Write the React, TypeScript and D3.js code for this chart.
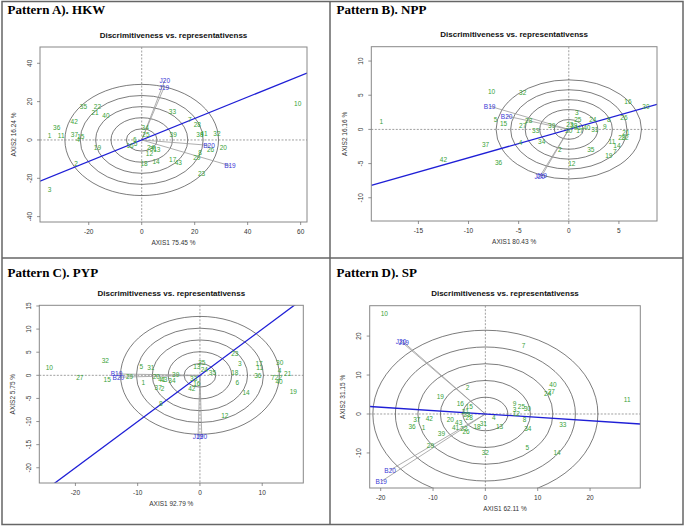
import React from 'react';
import * as d3 from 'd3';

// ---------- Panel A: HKW ----------
const genoLabelsA = ['10','35','22','21','40','42','36','1','11','37','4','15','33','7','28','34','25','39','38','41','32','6','16','5','24','31','13','12','18','14','17','43','19','20','26','8','29','23','2','3'];
const genoXA = [58.9,-22.0,-16.7,-17.6,-13.5,-25.5,-32.1,-34.8,-30.4,-25.4,-24.0,-23.0,11.6,18.2,21.0,1.3,1.6,11.9,22.0,23.5,28.4,-2.6,-4.4,-2.3,3.4,4.4,5.7,2.9,0.9,5.4,11.7,13.8,-16.7,30.8,26.0,22.0,20.8,22.6,-24.8,-34.8];
const genoYA = [19.1,17.2,17.7,14.4,12.7,9.6,6.6,2.1,2.4,2.8,0.2,1.7,14.8,10.8,8.2,6.3,2.8,3.1,2.8,3.5,3.5,0.3,-3.1,-2.1,-3.7,-4.6,-5.0,-7.0,-12.2,-11.0,-10.4,-11.8,-4.0,-3.7,-5.0,-6.6,-9.0,-17.7,-12.5,-25.7];
const envLabelsA = ['J20','J19','B20','B19'];
const envXA = [8.7,8.4,25.4,33.3];
const envYA = [31.1,27.3,-2.8,-13.4];
const ringsA = [5.8,11.6,17.4,23.2,29.0];
const slopeA = 0.56;
const xTicksA = [-20,0,20,40,60];
const yTicksA = [-40,-20,0,20,40];

// ---------- Panel B: NPP ----------
const genoLabelsB = ['1','10','32','16','30','5','15','28','27','3','25','24','8','26','33','39','23','20','38','41','17','40','31','9','21','29','22','11','14','7','19','37','34','4','2','35','42','36','12'];
const genoXB = [-18.7,-7.7,-4.6,5.9,7.7,-7.3,-6.5,-4.0,-4.6,0.8,0.9,2.4,4.0,5.5,-3.3,-1.7,0.1,0.0,0.5,0.9,1.1,1.8,2.6,3.6,5.7,5.3,5.6,4.3,4.8,4.6,4.0,-8.3,-2.7,-4.8,-0.9,2.2,-12.5,-7.0,0.3];
const genoYB = [1.1,5.5,5.4,4.1,3.4,1.4,0.8,1.3,0.6,2.5,1.5,1.5,1.5,1.8,-0.1,0.6,0.7,-0.1,0.5,0.3,-0.2,0.3,0.0,0.4,-0.5,-1.2,-1.2,-1.8,-2.3,-3.3,-3.8,-2.2,-1.8,-1.9,-3.0,-3.0,-4.4,-4.8,-5.0];
const envLabelsB = ['B19','B20','J20','J19'];
const envXB = [-7.9,-6.2,-2.9,-2.7];
const envYB = [3.4,1.95,-6.9,-6.8];
const ringsB = [1.45,2.9,4.35,5.8,7.25];
const slopeB = 0.415;
const xTicksB = [-15,-10,-5,0,5];
const yTicksB = [-10,-5,0,5,10];

// ---------- Panel C: PYP ----------
const genoLabelsC = ['10','32','27','15','29','5','31','1','20','41','43','34','39','37','2','42','33','16','13','25','24','35','23','3','18','6','14','17','11','36','30','4','21','7','22','40','19','12','8'];
const genoXC = [-24.2,-15.2,-19.3,-14.9,-11.3,-9.4,-7.9,-9.1,-7.0,-6.1,-5.8,-4.5,-3.9,-6.7,-6.0,-1.3,-1.0,-0.5,-0.5,0.3,0.7,2.0,5.6,6.4,5.6,6.0,7.4,9.5,9.6,9.3,12.8,12.8,14.1,11.7,12.6,12.7,15.0,4.0,-6.3];
const genoYC = [1.7,3.2,-0.4,-0.9,-0.3,1.8,1.7,-1.5,-0.3,-0.9,-1.0,-1.1,0.1,-2.7,-2.8,-2.8,-0.6,-1.7,2.0,2.7,1.3,0.6,4.8,2.5,0.6,-1.5,-3.7,2.6,1.7,-0.1,2.8,1.0,0.4,-0.4,-0.4,-1.4,-3.4,-8.6,-6.2];
const envLabelsC = ['B19','B20','J19','J20'];
const envXC = [-13.4,-13.1,-0.3,0.3];
const envYC = [0.3,-0.4,-13.2,-13.2];
const ringsC = [2.55,5.1,7.65,10.2,12.75];
const slopeC = 1.0;
const xTicksC = [-20,-10,0,10];
const yTicksC = [-20,-15,-10,-5,0,5,10,15];

// ---------- Panel D: SP ----------
const genoLabelsD = ['10','7','11','40','24','27','2','19','16','15','9','25','30','3','12','4','8','33','34','13','31','18','37','42','36','1','20','43','41','22','26','39','29','32','5','14','21','23','28'];
const genoXD = [-19.3,7.3,27.1,12.9,11.9,12.6,-3.4,-8.6,-4.8,-3.1,5.6,6.9,8.0,5.6,5.9,1.6,7.5,14.8,8.1,2.7,-0.4,-1.6,-13.1,-10.7,-14.0,-11.8,-6.7,-5.1,-5.7,-4.1,-3.7,-8.4,-10.5,0.0,8.0,13.7,-3.8,-3.5,-3.1];
const genoYD = [25.9,17.6,3.7,7.6,5.2,5.8,6.7,4.4,2.8,2.0,2.6,2.0,1.4,1.1,0.1,-1.0,-1.5,-2.7,-3.6,-3.3,-2.5,-3.2,-1.5,-1.2,-3.3,-3.4,-1.5,-2.1,-3.4,-3.6,-4.6,-5.0,-8.1,-9.8,-8.7,-9.8,0.7,-0.2,-1.0];
const envLabelsD = ['J19','J20','B20','B19'];
const envXD = [-15.6,-16.1,-18.2,-19.9];
const envYD = [18.4,18.6,-14.4,-17.3];
const ringsD = [4.3,8.6,12.9,17.2,21.5];
const slopeD = -0.087;
const xTicksD = [-20,-10,0,10,20];
const yTicksD = [-10,0,10,20];

const GREEN = '#38a238';
const BLUE = '#3a3ad6';
const SANS = "'Liberation Sans', Arial, sans-serif";
const SERIF = "'Liberation Serif', 'Times New Roman', serif";

type PanelProps = {
  id: string;
  box: { l: number; r: number; t: number; b: number };
  xDomain: [number, number];
  yDomain: [number, number];
  xTicks: number[];
  yTicks: number[];
  rings: number[];
  slope: number;
  gLabels: string[]; gX: number[]; gY: number[];
  eLabels: string[]; eX: number[]; eY: number[];
  xTitle: string; yTitle: string;
};

function Panel(p: PanelProps) {
  const x = d3.scaleLinear().domain(p.xDomain).range([p.box.l, p.box.r]);
  const y = d3.scaleLinear().domain(p.yDomain).range([p.box.b, p.box.t]);
  const cx = x(0), cy = y(0);
  const midX = (p.box.l + p.box.r) / 2;
  const midY = (p.box.t + p.box.b) / 2;
  const clip = `clip-${p.id}`;
  const fs = 6.5;
  return (
    <g>
      <defs>
        <clipPath id={clip}>
          <rect x={p.box.l} y={p.box.t} width={p.box.r - p.box.l} height={p.box.b - p.box.t} />
        </clipPath>
      </defs>
      <text x={midX} y={p.box.t - 12} textAnchor="middle" dominantBaseline="central" fontFamily={SANS} fontWeight="bold" fontSize={8} fill="#111">
        Discrimitiveness vs. representativenss
      </text>
      <g clipPath={`url(#${clip})`}>
        <line x1={p.box.l} x2={p.box.r} y1={cy} y2={cy} stroke="#777" strokeWidth={0.7} strokeDasharray="2,1.5" />
        <line x1={cx} x2={cx} y1={p.box.t} y2={p.box.b} stroke="#777" strokeWidth={0.7} strokeDasharray="2,1.5" />
        {p.rings.map((r, i) => (
          <ellipse key={i} cx={cx} cy={cy} rx={x(r) - cx} ry={cy - y(r)} fill="none" stroke="#444" strokeWidth={0.7} />
        ))}
        {p.eLabels.map((l, i) => (
          <line key={'el' + i} x1={cx} y1={cy} x2={x(p.eX[i])} y2={y(p.eY[i])} stroke="#999" strokeWidth={0.8} />
        ))}
        <line x1={x(p.xDomain[0])} y1={y(p.slope * p.xDomain[0])} x2={x(p.xDomain[1])} y2={y(p.slope * p.xDomain[1])} stroke="#1f1fd6" strokeWidth={1.3} />
        {p.gLabels.map((l, i) => (
          <text key={'g' + i} x={x(p.gX[i])} y={y(p.gY[i])} textAnchor="middle" dominantBaseline="central" fontFamily={SANS} fontSize={fs} fill={GREEN}>{l}</text>
        ))}
        {p.eLabels.map((l, i) => (
          <text key={'e' + i} x={x(p.eX[i])} y={y(p.eY[i])} textAnchor="middle" dominantBaseline="central" fontFamily={SANS} fontSize={fs} fill={BLUE}>{l}</text>
        ))}
      </g>
      <rect x={p.box.l} y={p.box.t} width={p.box.r - p.box.l} height={p.box.b - p.box.t} fill="none" stroke="#888" strokeWidth={1} />
      {p.xTicks.map((t) => (
        <g key={'xt' + t}>
          <line x1={x(t)} x2={x(t)} y1={p.box.b} y2={p.box.b + 3} stroke="#666" strokeWidth={0.7} />
          <text x={x(t)} y={p.box.b + 9.5} textAnchor="middle" dominantBaseline="central" fontFamily={SANS} fontSize={fs} fill="#333">{t < 0 ? '-' + Math.abs(t) : String(t)}</text>
        </g>
      ))}
      {p.yTicks.map((t) => (
        <g key={'yt' + t}>
          <line x1={p.box.l - 3} x2={p.box.l} y1={y(t)} y2={y(t)} stroke="#666" strokeWidth={0.7} />
          <text transform={`translate(${p.box.l - 11},${y(t)}) rotate(-90)`} textAnchor="middle" dominantBaseline="central" fontFamily={SANS} fontSize={fs} fill="#333">{t < 0 ? '-' + Math.abs(t) : String(t)}</text>
        </g>
      ))}
      <text x={midX} y={p.box.b + 20.7} textAnchor="middle" dominantBaseline="central" fontFamily={SANS} fontSize={fs} fill="#333">{p.xTitle}</text>
      <text transform={`translate(${p.box.l - 27},${midY}) rotate(-90)`} textAnchor="middle" dominantBaseline="central" fontFamily={SANS} fontSize={fs} fill="#333">{p.yTitle}</text>
    </g>
  );
}

export default function App() {
  return (
    <svg width={685} height={526} style={{ position: 'absolute', left: 0, top: 0, background: '#fff' }}>
      <rect x={0} y={0} width={685} height={526} fill="#fff" />
      <rect x={2} y={1.5} width={681} height={523} fill="none" stroke="#666" strokeWidth={1.5} />
      <line x1={330} x2={330} y1={1.5} y2={524.5} stroke="#666" strokeWidth={1.5} />
      <line x1={2} x2={683} y1={258} y2={258} stroke="#666" strokeWidth={1.5} />

      <text x={7.5} y={14} fontFamily={SERIF} fontWeight="bold" fontSize={13} fill="#000">Pattern A). HKW</text>
      <text x={336.5} y={14} fontFamily={SERIF} fontWeight="bold" fontSize={13} fill="#000">Pattern B). NPP</text>
      <text x={7.5} y={277} fontFamily={SERIF} fontWeight="bold" fontSize={13} fill="#000">Pattern C). PYP</text>
      <text x={336.5} y={277} fontFamily={SERIF} fontWeight="bold" fontSize={13} fill="#000">Pattern D). SP</text>

      <Panel id="a" box={{ l: 40, r: 307, t: 47, b: 222 }} xDomain={[-38.4, 62.4]} yDomain={[-42.8, 48.5]}
        xTicks={xTicksA} yTicks={yTicksA} rings={ringsA} slope={slopeA}
        gLabels={genoLabelsA} gX={genoXA} gY={genoYA} eLabels={envLabelsA} eX={envXA} eY={envYA}
        xTitle="AXIS1 75.45 %" yTitle="AXIS2 16.24 %" />
      <Panel id="b" box={{ l: 371.3, r: 657, t: 46.7, b: 221 }} xDomain={[-19.7, 8.8]} yDomain={[-13.4, 12.1]}
        xTicks={xTicksB} yTicks={yTicksB} rings={ringsB} slope={slopeB}
        gLabels={genoLabelsB} gX={genoXB} gY={genoYB} eLabels={envLabelsB} eX={envXB} eY={envYB}
        xTitle="AXIS1 80.43 %" yTitle="AXIS2 16.16 %" />
      <Panel id="c" box={{ l: 39.3, r: 303.3, t: 305.3, b: 483 }} xDomain={[-25.8, 16.6]} yDomain={[-23.3, 15.15]}
        xTicks={xTicksC} yTicks={yTicksC} rings={ringsC} slope={slopeC}
        gLabels={genoLabelsC} gX={genoXC} gY={genoYC} eLabels={envLabelsC} eX={envXC} eY={envYC}
        xTitle="AXIS1 92.79 %" yTitle="AXIS2 5.75 %" />
      <Panel id="d" box={{ l: 369.7, r: 640.3, t: 305.7, b: 488 }} xDomain={[-22.1, 29.6]} yDomain={[-19.0, 27.8]}
        xTicks={xTicksD} yTicks={yTicksD} rings={ringsD} slope={slopeD}
        gLabels={genoLabelsD} gX={genoXD} gY={genoYD} eLabels={envLabelsD} eX={envXD} eY={envYD}
        xTitle="AXIS1 62.11 %" yTitle="AXIS2 31.15 %" />
    </svg>
  );
}
